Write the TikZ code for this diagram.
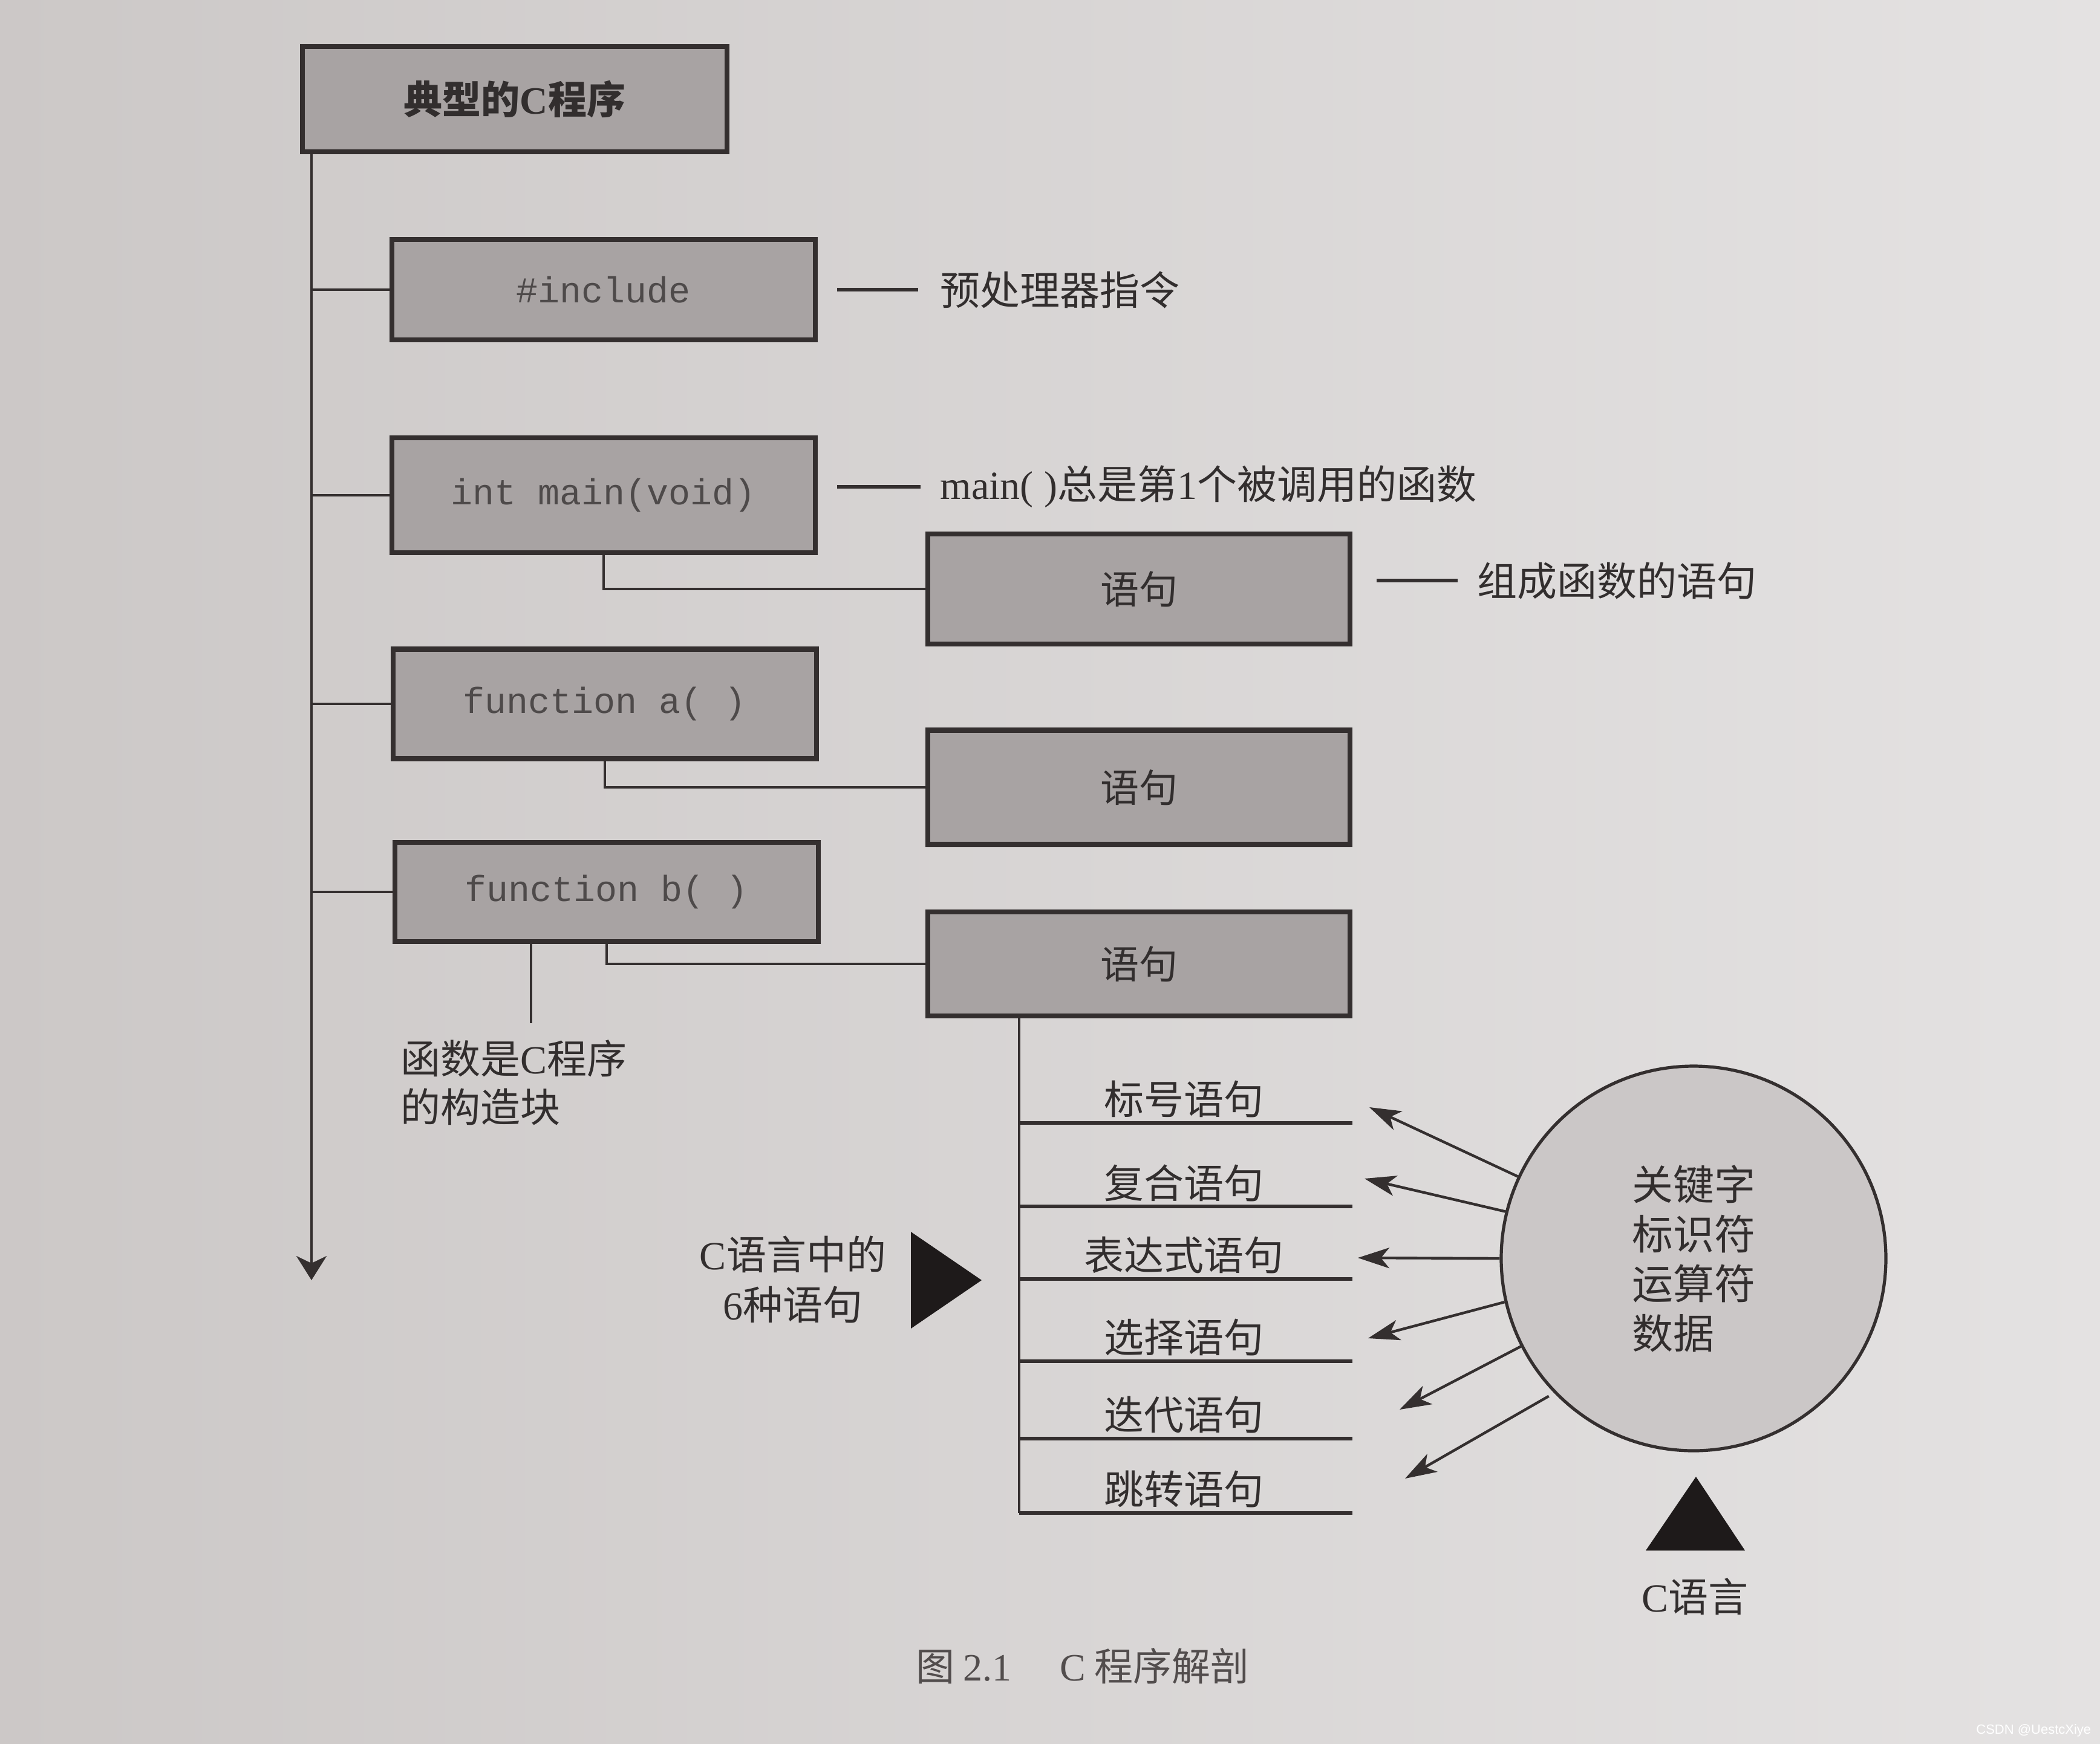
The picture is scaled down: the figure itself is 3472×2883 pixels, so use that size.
\documentclass[tikz,border=0pt]{standalone}
\usepackage{fontspec}
\setmainfont{Liberation Serif}
\setmonofont{Liberation Mono}
\newfontfamily\cjk{Noto Sans CJK SC}
\newfontfamily\wmfont{Liberation Sans}
\usetikzlibrary{arrows.meta}
\definecolor{bgL}{RGB}{204,200,199}
\definecolor{bgR}{RGB}{228,226,226}
\definecolor{boxfill}{RGB}{168,163,163}
\definecolor{circfill}{RGB}{203,199,199}
\definecolor{ink}{RGB}{52,47,47}
\definecolor{inkdark}{RGB}{30,26,26}
\definecolor{txt}{RGB}{50,46,46}
\definecolor{monotxt}{RGB}{78,74,74}
\definecolor{captxt}{RGB}{82,77,77}
\begin{document}
\begin{tikzpicture}[x=0.25pt,y=-0.25pt,
  box/.style={draw=ink, line width=2.2pt, fill=boxfill, rectangle, inner sep=0pt},
  codetext/.style={font=\ttfamily\fontsize{15}{18}\selectfont, text=monotxt},
  zh/.style={font=\cjk\fontsize{16}{20}\selectfont, text=txt, inner sep=0pt},
  lab/.style={font=\cjk\fontsize{16.5}{20}\selectfont, text=txt, inner sep=0pt},
  conn/.style={draw=ink, line width=1.1pt},
  dashline/.style={draw=ink, line width=1.3pt},
  arr/.style={draw=ink, line width=1.1pt, -{Stealth[length=13pt,width=8.5pt,inset=3.5pt]}}
]
\shade[left color=bgL, right color=bgR] (0,0) rectangle (3472,2883);
\useasboundingbox (0,0) rectangle (3472,2883);

% left column boxes
\node[box, minimum width=175.5pt, minimum height=43.5pt, font=\cjk\bfseries\fontsize{16}{20}\selectfont, text=txt] (top) at (851,164) {典型的{\rmfamily C}程序};
\node[box, codetext, minimum width=175pt, minimum height=41.5pt] (inc) at (998,479) {\#include};
\node[box, codetext, minimum width=175pt, minimum height=47.5pt] (mainb) at (998,819) {int main(void)};
\node[box, codetext, minimum width=175pt, minimum height=45.25pt] (fa) at (1000,1164) {function a( )};
\node[box, codetext, minimum width=175pt, minimum height=41pt] (fb) at (1003,1475) {function b( )};

% statement boxes
\node[box, zh, minimum width=174.5pt, minimum height=45.5pt] (s1) at (1883,974) {语句};
\node[box, zh, minimum width=174.5pt, minimum height=47.25pt] (s2) at (1883,1302) {语句};
\node[box, zh, minimum width=174.5pt, minimum height=43pt] (s3) at (1883,1594) {语句};

% main trunk
\coordinate (mend) at (515,2117);
\draw[conn, -{Stealth[length=10pt,width=12.5pt,inset=3pt]}] (top.south -| mend) -- (mend);
\draw[conn] (inc.west -| mend) -- (inc.west);
\draw[conn] (mainb.west -| mend) -- (mainb.west);
\draw[conn] (fa.west -| mend) -- (fa.west);
\draw[conn] (fb.west -| mend) -- (fb.west);

% function -> statements
\draw[conn] (mainb.south) |- (s1.west);
\draw[conn] (fa.south) |- (s2.west);
\draw[conn] (fb.south) |- (s3.west);

% side labels
\node[lab, anchor=west] (l1) at (1554,479) {预处理器指令};
\coordinate (d1) at (1384,479);
\draw[dashline] (d1) -- ([xshift=-9pt]l1.west);
\node[lab, anchor=west] (l2) at (1554,805) {{\rmfamily main(\kern4.5pt)}总是第{\rmfamily 1}个被调用的函数};
\coordinate (d2) at (1384,805);
\draw[dashline] (d2) -- ([xshift=-8pt]l2.west);
\node[lab, anchor=west] (l3) at (2442,960) {组成函数的语句};
\coordinate (d3) at (2276,960);
\draw[dashline] (d3) -- ([xshift=-8pt]l3.west);

% building-block note
\coordinate (bl) at (878,1692);
\draw[conn] (fb.south -| bl) -- (bl);
\node[lab, anchor=west, align=left] (fbl) at (662,1790) {函数是{\rmfamily C}程序\\的构造块};

% six statements
\foreach \yy/\tt [count=\i] in {1857/标号语句, 1995/复合语句, 2115/表达式语句, 2251/选择语句, 2379/迭代语句, 2502/跳转语句} {
  \coordinate (hl\i) at (1685,\yy);
  \coordinate (hr\i) at (2236,\yy);
  \draw[dashline] (hl\i) -- (hr\i);
  \node[lab] (k\i) at (1957,\yy-39) {\tt};
}
\draw[conn] (s3.south -| hl6) -- (hl6);

\node[lab, align=center, font=\cjk\fontsize{16.5}{20.75}\selectfont] (six) at (1311,2116) {{\rmfamily C}语言中的\\{\rmfamily 6}种语句};
\fill[inkdark] (1506,2037) -- (1506,2197) -- (1623,2117) -- cycle;

% circle
\node[circle, draw=ink, line width=1.3pt, fill=circfill, minimum size=159pt, inner sep=0pt, align=left, font=\cjk\fontsize{17}{20.5}\selectfont, text=txt] (circ) at (2800,2081) {关键字\\标识符\\运算符\\数据};
\coordinate (t1) at (2264,1831);
\coordinate (t2) at (2256,1949);
\coordinate (t3) at (2245,2080);
\coordinate (t4) at (2262,2213);
\coordinate (t5) at (2314,2331);
\coordinate (t6) at (2323,2445);
\draw[arr] (circ.155.7) -- (t1);
\draw[arr] (circ.166) -- (t2);
\draw[arr] (circ.180) -- (t3);
\draw[arr] (circ.193) -- (t4);
\draw[arr] (circ.207.5) -- (t5);
\draw[arr, shorten <=2.5pt] (circ.224) -- (t6);

\fill[inkdark] (2721,2564) -- (2885,2564) -- (2804,2442) -- cycle;
\node[lab] (clang) at (2802,2640) {{\rmfamily C}语言};

% caption
\node[font=\cjk\fontsize{16}{20}\selectfont, text=captxt, inner sep=0pt] (cap) at (1790,2755) {图~{\rmfamily 2.1}\hspace{20pt}{\rmfamily C}~程序解剖};
\node[font=\wmfont\fontsize{5.5}{6}\selectfont, text=white, anchor=east, inner sep=0pt] (wm) at (3458,2862) {CSDN @UestcXiye};
\end{tikzpicture}
\end{document}
